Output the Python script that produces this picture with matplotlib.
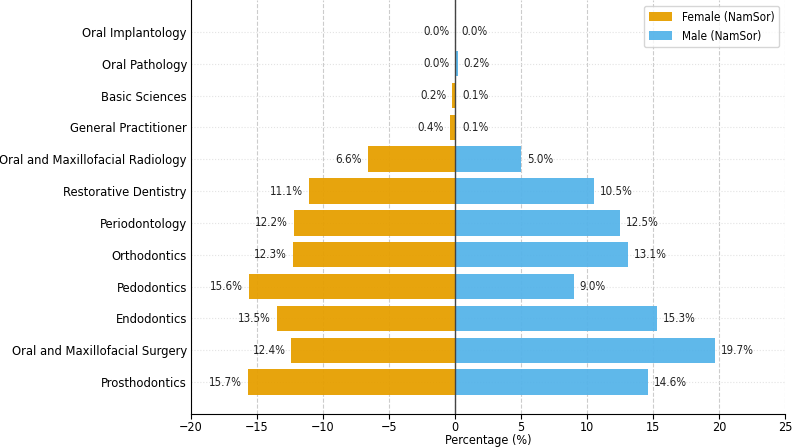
import matplotlib
matplotlib.use("Agg")
import matplotlib.pyplot as plt
import numpy as np

categories = [
    "Prosthodontics",
    "Oral and Maxillofacial Surgery",
    "Endodontics",
    "Pedodontics",
    "Orthodontics",
    "Periodontology",
    "Restorative Dentistry",
    "Oral and Maxillofacial Radiology",
    "General Practitioner",
    "Basic Sciences",
    "Oral Pathology",
    "Oral Implantology",
]
female = [15.7, 12.4, 13.5, 15.6, 12.3, 12.2, 11.1, 6.6, 0.4, 0.2, 0.0, 0.0]
male = [14.6, 19.7, 15.3, 9.0, 13.1, 12.5, 10.5, 5.0, 0.1, 0.1, 0.2, 0.0]

plt.rcParams["font.family"] = ["DejaVu Sans"]
plt.rcParams["font.stretch"] = "condensed"

fig, ax = plt.subplots(figsize=(7.93, 4.48), dpi=100)
y = np.arange(len(categories))

ax.barh(y, -np.array(female), height=0.8, color="#E69F00", alpha=0.95, label="Female (NamSor)")
ax.barh(y, male, height=0.8, color="#56B4E9", alpha=0.95, label="Male (NamSor)")

# etiquetas de porcentaje
for i in range(len(categories)):
    ax.text(-female[i] - 0.45, y[i], f"{female[i]:.1f}%", ha="right", va="center", fontsize=8.3, color="#222222")
    ax.text(male[i] + 0.45, y[i], f"{male[i]:.1f}%", ha="left", va="center", fontsize=8.3, color="#222222")

ax.axvline(0, color="#444444", linewidth=1)
ax.set_yticks(y)
ax.set_yticklabels(categories, fontsize=9.3)
ax.set_xlim(-20, 25)
ax.set_ylim(-1, len(categories))
ax.set_xticks(np.arange(-20, 26, 5))
ax.tick_params(axis="x", labelsize=9, pad=1.5)
ax.tick_params(axis="y", length=0, pad=3)
ax.set_xlabel("Percentage (%)", fontsize=9, labelpad=0)

ax.grid(axis="x", linestyle="--", color="#cccccc", linewidth=0.8)
ax.grid(axis="y", linestyle=":", color="#e3e3e3", linewidth=0.8)
ax.set_axisbelow(True)
ax.spines["top"].set_visible(False)
ax.spines["right"].set_visible(False)

ax.legend(loc="upper right", fontsize=8.5, frameon=True)

fig.subplots_adjust(left=0.241, right=0.99, top=1.0, bottom=0.076)
fig.savefig("out.png", dpi=100)
